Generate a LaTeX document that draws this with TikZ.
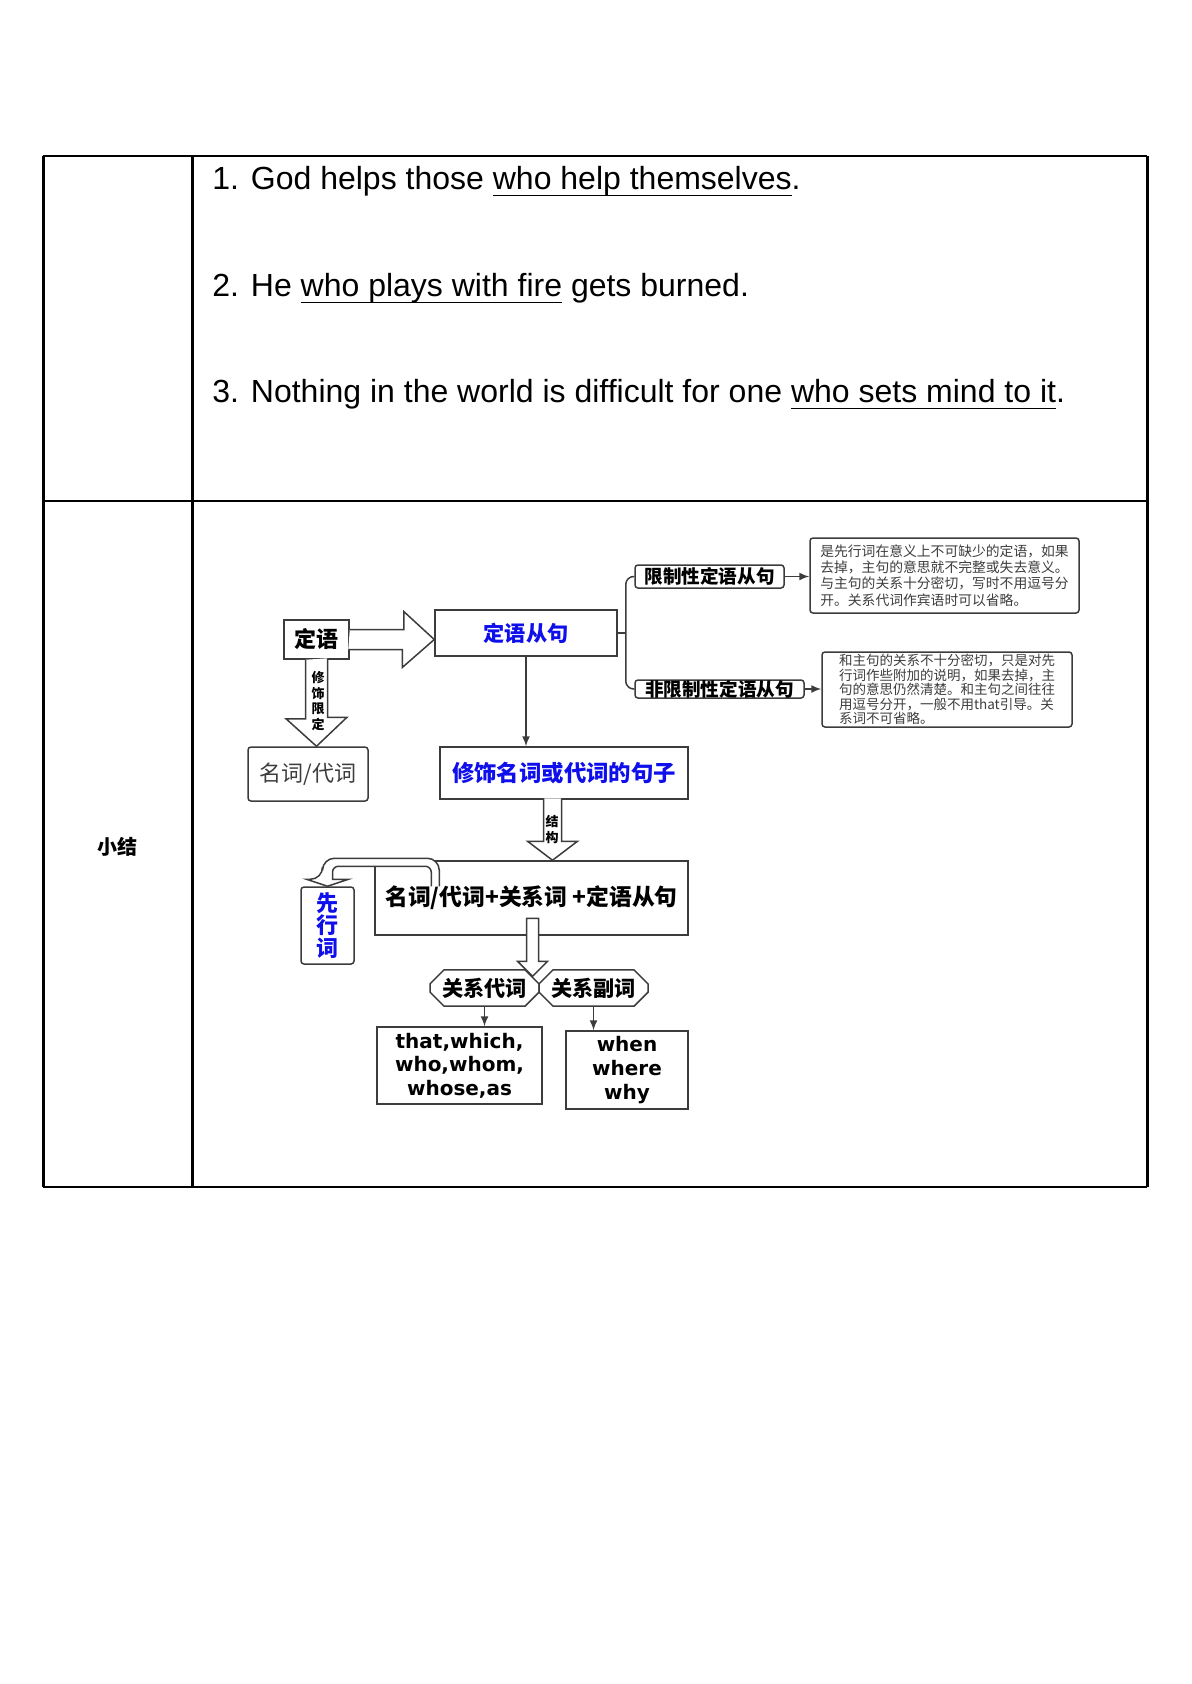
\documentclass[tikz,border=0pt]{standalone}
\usepackage{fontspec}
\setmainfont{Liberation Sans}
\newfontfamily\cjk{Noto Sans CJK SC}
\newfontfamily\dvs{DejaVu Sans}
\usetikzlibrary{shapes,arrows,arrows.meta,positioning,calc}
\definecolor{dgray}{RGB}{60,60,60}
\definecolor{kblue}{RGB}{15,15,235}
\newcommand\ulx[1]{\setbox0=\hbox{#1}\rlap{\rule[-3.2pt]{\wd0}{0.8pt}}\box0\relax}
\newcommand\fsz[2]{\fontsize{#1}{#2}\selectfont}
\tikzset{
    box/.style={
           draw=dgray, line width=0.75pt,
           inner sep=0pt,
           font=\cjk\bfseries\fsz{11pt}{13pt}
           },
    rbox/.style={
           box,
           rounded corners=1.5pt
           },
    note/.style={
           rbox, align=left,
           text=dgray,
           font=\cjk\fsz{6.9pt}{8.2pt}
           },
    cbox/.style={
           box, chamfered rectangle,
           chamfered rectangle xsep=3pt,
           chamfered rectangle ysep=4pt,
           font=\cjk\bfseries\fsz{10.6pt}{13pt}
           },
    hollow/.style={
           draw=dgray, line width=0.75pt,
           fill=white
           },
    arr/.style={
           -{Latex[length=5pt,width=4pt]},
           draw=dgray, line width=0.75pt
           },
    vlabel/.style={
           align=center, inner sep=0pt,
           font=\cjk\bfseries\fsz{6.5pt}{7.8pt}
           },
    word/.style={
           box, align=center,
           font=\dvs\bfseries\fsz{10pt}{11.8pt}
           },
    line/.style={
           inner sep=0pt, anchor=base west,
           font=\fsz{16pt}{19pt}
           }
}
\begin{document}
\begin{tikzpicture}[x=0.5pt, y=-0.5pt]
\useasboundingbox (0,0) rectangle (1191,1684);
% table
\draw[line width=0.75pt] (43,156) -- (1147,156)
    (43,501) -- (1147,501)
    (43,1187) -- (1147,1187);
\draw[line width=1.5pt] (43,156) -- (43,1187)
    (192,156) -- (192,1187)
    (1147,156) -- (1147,1187);
\node[line] (s1) at (212,190) {1. God helps those \ulx{who help themselves}.};
\node[line] (s2) at (212,297) {2. He \ulx{who plays with fire} gets burned.};
\node[line] (s3) at (212,403) {3. Nothing in the world is difficult for one \ulx{who sets mind to it}.};
\node[font=\cjk\bfseries\fsz{10pt}{12pt}] (xj) at (117.5,847) {小结};

% boxes
\node[box, minimum width=32.5pt, minimum height=19.5pt] (dy) at (316.5,639.5) {定语};
\node[box, text=kblue, font=\cjk\bfseries\fsz{10.6pt}{13pt},
      minimum width=91pt, minimum height=23pt] (dycj) at (526,633) {定语从句};
\node[rbox, text=dgray, font=\cjk\fsz{11pt}{13pt},
      minimum width=60pt, minimum height=27pt] (mc) at (308,774) {名词/代词};
\node[box, text=kblue, font=\cjk\bfseries\fsz{11.2pt}{13pt},
      minimum width=124pt, minimum height=26pt] (xs) at (564,773) {修饰名词或代词的句子};
\node[rbox, font=\cjk\bfseries\fsz{9.3pt}{11pt},
      minimum width=74.5pt, minimum height=11.5pt] (xz) at (709.5,576.5) {限制性定语从句};
\node[rbox, font=\cjk\bfseries\fsz{9.3pt}{11pt},
      minimum width=84.5pt, minimum height=9pt] (fxz) at (719.5,689) {非限制性定语从句};
\node[note, minimum width=134.5pt, minimum height=37.5pt] (t1) at (944.5,575.5)
     {是先行词在意义上不可缺少的定语，如果\\去掉，主句的意思就不完整或失去意义。\\与主句的关系十分密切，写时不用逗号分\\开。关系代词作宾语时可以省略。};
\node[note, font=\cjk\fsz{6.75pt}{7.3pt}, minimum width=125pt, minimum height=37.5pt] (t2) at (947,689.5)
     {和主句的关系不十分密切，只是对先\\行词作些附加的说明，如果去掉，主\\句的意思仍然清楚。和主句之间往往\\用逗号分开，一般不用that引导。关\\系词不可省略。};
\node[box, font=\cjk\bfseries\fsz{11.4pt}{13pt},
      minimum width=156.5pt, minimum height=37pt] (jg) at (531.5,898) {名词/代词+关系词 +定语从句};
\node[rbox, text=kblue, align=center, font=\cjk\bfseries\fsz{11pt}{11.3pt},
      minimum width=26.5pt, minimum height=38.5pt] (xx) at (327.5,925.5) {先\\行\\词};
\node[cbox, minimum width=54.5pt, minimum height=18pt] (gd) at (484.5,988) {关系代词};
\node[cbox, minimum width=54.5pt, minimum height=18pt] (gf) at (593.5,988) {关系副词};
\node[word, minimum width=82.5pt, minimum height=38.5pt] (th) at (459.5,1065.5) {that,which,\\who,whom,\\whose,as};
\node[word, minimum width=61pt, minimum height=39pt] (wh) at (627,1070) {when\\where\\why};

% block arrows
\filldraw[hollow] ($(dy.east)+(0,-10)$) -- ++(54,0) -- ++(0,-18) -- (dycj.west |- dy.east)
    -- ++(-32,28) -- ++(0,-18) -- ++(-54,0);
\filldraw[hollow] ($(dy.south)+(-11,0)$) -- ++(0,59) -- ++(-19.5,0) -- (dy.south |- mc.north)
    -- ++(30.5,-29) -- ++(-19.5,0) -- ++(0,-59);
\filldraw[hollow] ($(jg.north)+(12,-62)$) -- ++(0,43) -- ++(-16,0) -- ($(jg.north)+(21,0)$)
    -- ++(25,-19) -- ++(-16,0) -- ++(0,-43);
\filldraw[hollow] ($(gd.north east)+(-6,-58)$) -- ++(0,43) -- ++(-9,0) -- (gd.north east)
    -- ++(15,-15) -- ++(-9,0) -- ++(0,-43) -- cycle;
\coordinate (ub) at ($(jg.north west)+(61,26)$);
\filldraw[hollow] ($(ub)+(4,0)$) [rounded corners=6pt] -- ++(0,-28) -| ($(xx.north)+(-5,-7)$)
    [sharp corners] -- ++(-16,0) -- (xx.north) -- ++(21,-7) -- ++(-16,0)
    [rounded corners=3pt] |- ($(ub)+(-4,-20)$) [sharp corners] -- ++(0,20);
\node[vlabel] (xsxd) at (318,701) {修\\饰\\限\\定};
\node[vlabel] (jgl) at (552,829.5) {结\\构};

% thin connectors
\draw[draw=dgray, line width=0.75pt, rounded corners=4pt]
    (xz.west) -| ($(dycj.east)+(8,0)$) |- (fxz.west);
\draw[draw=dgray, line width=0.75pt] (dycj.east) -- ++(8,0);
\draw[arr] (xz.east) -- (xz.east -| t1.west);
\draw[arr] (fxz.east) -- (fxz.east -| t2.west);
\draw[arr] (dycj.south) -- (dycj.south |- xs.north);
\draw[arr] (gd.south) -- (gd.south |- th.north);
\draw[arr] (gf.south) -- (gf.south |- wh.north);
\end{tikzpicture}
\end{document}
